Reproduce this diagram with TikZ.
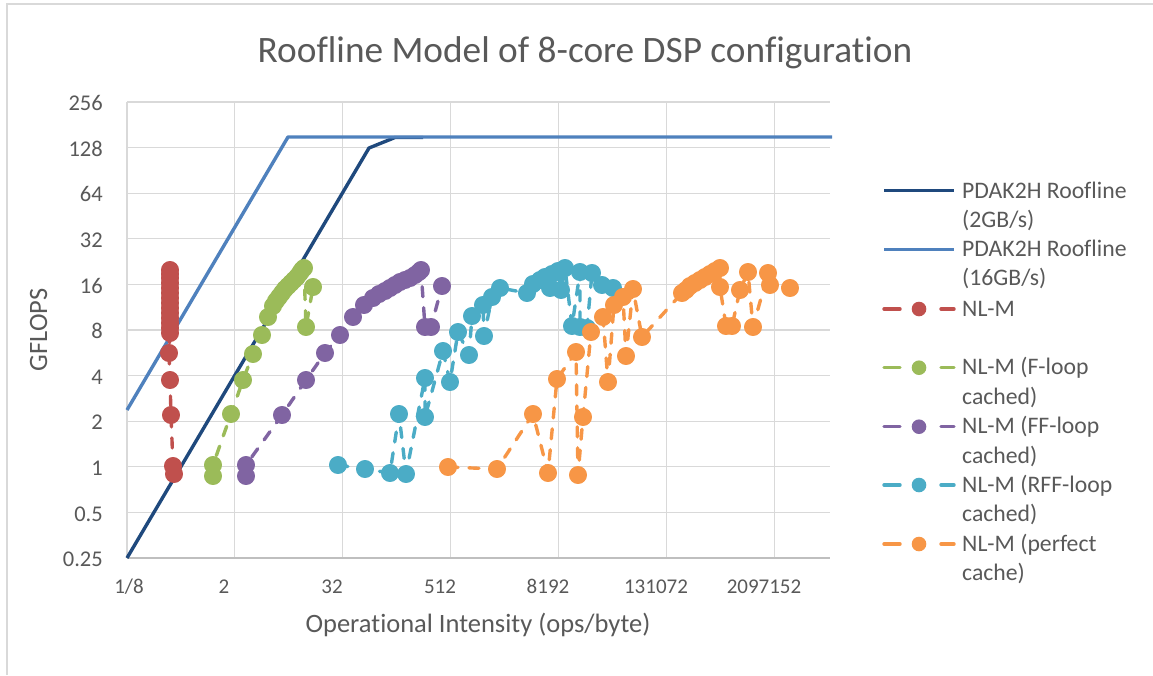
\documentclass[tikz,border=0pt]{standalone}
\usepackage{fontspec}
\setmainfont{Carlito}[Ligatures=NoCommon]
\definecolor{txt}{HTML}{595959}
\definecolor{gridgray}{HTML}{D9D9D9}
\definecolor{axisgray}{HTML}{BFBFBF}
\definecolor{roofdark}{HTML}{1F497D}
\definecolor{roofblue}{HTML}{4F81BD}
\definecolor{nlred}{HTML}{C0504D}
\definecolor{nlgreen}{HTML}{9BBB59}
\definecolor{nlpurple}{HTML}{8064A2}
\definecolor{nlcyan}{HTML}{4BACC6}
\definecolor{nlorange}{HTML}{F79646}
% one dashed data series with round markers, points given in drawing order
\newcommand\nlseries[2]{%
  \draw[serline, color=#1] plot[mark=*, mark size=7.3pt,
    mark options={solid, draw=none, fill=#1}] coordinates {#2};}
% legend sample for a dashed series
\newcommand\legsample[3]{%
  \draw[legdash, color=#1] (884,#2) -- (900,#2);
  \draw[legdash, color=#1] (941,#2) -- (954,#2);
  \fill[color=#1] (919,#2) circle[radius=7.3pt];
  \coordinate (#3) at (919,#2);}
\begin{document}
\begin{tikzpicture}[x=1pt,y=-1pt,
  grid/.style={draw=gridgray, line width=1.1pt},
  axisline/.style={draw=axisgray, line width=1.3pt},
  roof/.style={line width=3.4pt, line join=round},
  serline/.style={line width=3.4pt, line cap=round, line join=round, dash pattern=on 10pt off 11pt},
  legdash/.style={line width=3.4pt, line cap=round},
  ytick/.style={text=txt, font=\fontsize{22.5}{26}\selectfont, inner sep=0pt, anchor=base east},
  xtick/.style={text=txt, font=\fontsize{21}{25}\selectfont, inner sep=0pt, anchor=base},
  legtext/.style={text=txt, font=\fontsize{23.7}{28}\selectfont, inner sep=0pt, anchor=base west},
  axtitle/.style={text=txt, font=\fontsize{26.5}{30}\selectfont, inner sep=0pt, anchor=base}]
\useasboundingbox (0,0) rectangle (1153,675);

% chart frame
\draw[draw=gridgray, line width=1.2pt] (7,675) -- (7,4) -- (1153,4);

% title
\node[text=txt, font=\fontsize{37.3}{42}\selectfont, inner sep=0pt, anchor=base] (title) at (585,62)
  {Roofline Model of 8-core DSP configuration};

% grid
\foreach \k in {0,...,9} \draw[grid] (127,{102+45.6*\k}) -- (830,{102+45.6*\k});
\foreach \k in {0,...,6} \draw[grid] ({127+107.9*\k},102) -- ({127+107.9*\k},558);
\draw[axisline] (127,558) -- (830,558);

% y tick labels
\foreach \lab [count=\k from 0] in {256,128,64,32,16,8,4,2,1,0.5,0.25}
  \node[ytick] (ylab\k) at (103,{102+45.6*\k+8.7}) {\lab};

% x tick labels
\node[xtick] (xlab0) at (129,593) {1/8};
\node[xtick] (xlab1) at (224,593) {2};
\node[xtick] (xlab2) at (332,593) {32};
\node[xtick] (xlab3) at (440,593) {512};
\node[xtick] (xlab4) at (548,593) {8192};
\node[xtick] (xlab5) at (656,593) {131072};
\node[xtick] (xlab6) at (764,593) {2097152};

% axis titles
\node[axtitle] (xtitle) at (478,632) {Operational Intensity (ops/byte)};
\node[axtitle, rotate=90] (ytitle) at (47,330) {GFLOPS};

% rooflines
\draw[roof, roofdark] (127,558) -- (369,148) -- (395,137.5) -- (423,137.5);
\draw[roof, roofblue] (127,410) -- (288,137) -- (832,137);

% NL-M
\nlseries{nlred}{(170,270) (170,274) (170,278) (170,283) (170,288) (170,293) (170,298)
  (170,303) (170,308) (170,313) (170,318) (170,323) (170,328) (170,333) (169,353)
  (170,380) (171,415) (173,466) (174,474)}

% NL-M (F-loop cached)
\nlseries{nlgreen}{(213,476) (213,465) (231,414) (243,380) (253,354) (262,335) (268,317)
  (273,306) (276,301) (279,297) (282,293) (285,289) (288,286) (291,283) (294,280)
  (297,277) (300,273) (302,270) (304,268) (306,327) (313,287)}

% NL-M (FF-loop cached)
\nlseries{nlpurple}{(246,476) (246,465) (282,415) (306,380) (325,353) (340,335) (353,317)
  (364,305) (373,298) (379,294) (385,291) (390,288) (395,285) (400,282) (405,280)
  (410,278) (415,275) (419,272) (421,270) (425,327) (431,327) (442,286)}

% NL-M (RFF-loop cached)
\nlseries{nlcyan}{(338,465) (365,469) (390,473) (399,414) (406,474) (425,378) (425,417)
  (443,351) (450,382) (458,332) (469,355) (472,316) (483,305) (484,336) (492,297)
  (500,288) (527,293) (533,284) (540,280) (545,277) (550,288) (552,274) (558,271)
  (561,290) (565,268) (572,326) (580,272) (580,327) (587,328) (592,273) (602,285)
  (613,288)}

% NL-M (perfect cache)
\nlseries{nlorange}{(448,467) (497,469) (533,414) (548,473) (557,379) (576,352) (578,475)
  (583,417) (591,332) (603,317) (608,382) (614,305) (623,297) (626,356) (633,289)
  (642,337) (682,293) (686,290) (690,286) (695,283) (700,280) (705,277) (710,274)
  (715,271) (720,268) (720,287) (726,326) (732,326) (740,290) (748,272) (753,327)
  (768,273) (770,285) (790,288)}

% legend
\draw[roof, roofdark] (884,190.7) -- (954,190.7);
\node[legtext] (leg1a) at (962,198) {PDAK2H Roofline};
\node[legtext] (leg1b) at (962,227.3) {(2GB/s)};
\draw[roof, roofblue] (884,249.3) -- (954,249.3);
\node[legtext] (leg2a) at (962,256.3) {PDAK2H Roofline};
\node[legtext] (leg2b) at (962,285.6) {(16GB/s)};
\legsample{nlred}{309}{mk3}
\node[legtext] (leg3a) at (962,316) {NL-M};
\legsample{nlgreen}{367.7}{mk4}
\node[legtext] (leg4a) at (962,374.7) {NL-M (F-loop};
\node[legtext] (leg4b) at (962,404) {cached)};
\legsample{nlpurple}{426.7}{mk5}
\node[legtext] (leg5a) at (962,433.7) {NL-M (FF-loop};
\node[legtext] (leg5b) at (962,463) {cached)};
\legsample{nlcyan}{485}{mk6}
\node[legtext] (leg6a) at (962,492) {NL-M (RFF-loop};
\node[legtext] (leg6b) at (962,521.3) {cached)};
\legsample{nlorange}{544}{mk7}
\node[legtext] (leg7a) at (962,551) {NL-M (perfect};
\node[legtext] (leg7b) at (962,580.3) {cache)};
\end{tikzpicture}
\end{document}
